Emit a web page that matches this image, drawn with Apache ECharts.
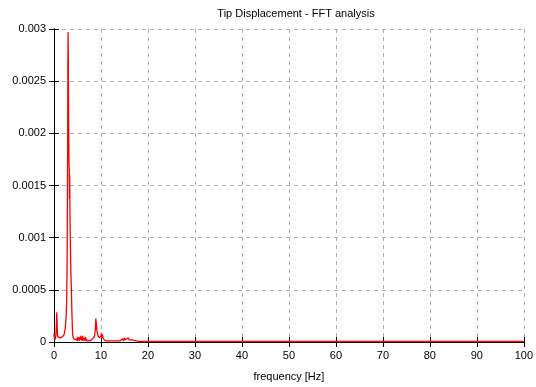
<!DOCTYPE html>
<html>
<head>
<meta charset="utf-8">
<script src="https://cdn.jsdelivr.net/npm/echarts@6/dist/echarts.min.js"></script>
<style>
  html, body { margin: 0; padding: 0; background: #fff; }
  #chart { width: 536px; height: 387px; }
</style>
</head>
<body>
<div id="chart"></div>
<script>
// frequency [Hz] of each sample
const freq = [
  0, 0.05, 0.1, 0.2, 0.3, 0.4, 0.5, 0.55, 0.6, 0.65, 0.7, 0.8, 1.0, 1.2, 1.5, 1.8,
  2.0, 2.2, 2.4, 2.6, 2.7, 2.8, 2.9, 2.95, 3.0, 3.05, 3.1, 3.15, 3.2, 3.25, 3.3,
  3.35, 3.4, 3.5, 3.6, 3.7, 3.8, 3.9, 4.0, 4.2, 4.5, 4.8,
  4.9, 5.0, 5.1, 5.2, 5.3, 5.4, 5.5, 5.6, 5.7, 5.8, 5.9, 6.0, 6.1, 6.2, 6.3, 6.4,
  6.5, 6.6, 6.7, 6.8, 6.9, 7.0, 7.5, 8.0, 8.3, 8.6, 8.8, 8.9, 9.0, 9.1, 9.2, 9.4,
  9.6, 9.8, 10.0, 10.1, 10.2, 10.3, 10.5, 10.8, 11, 11.5, 12, 13, 14,
  14.4, 14.6, 14.8, 15.0, 15.2, 15.4, 15.6, 15.8, 16.0, 16.2, 16.4, 16.6, 17, 18,
  20, 30, 40, 50, 60, 70, 80, 90, 100
];
// tip displacement amplitude
const amp = [
  0.00008, 0.00004, 0.00006, 0.00002, 0.00003, 0.00006, 0.00015, 0.00024, 0.000286,
  0.0002, 0.00012, 0.00005, 0.00005, 0.00004, 0.00004, 0.00005,
  0.00006, 0.00008, 0.00013, 0.00025, 0.0004, 0.0008, 0.0018, 0.0026, 0.00297,
  0.0027, 0.0022, 0.0019, 0.0017, 0.00165, 0.00137,
  0.0016, 0.0012, 0.0009, 0.00065, 0.0005, 0.0003, 0.00015, 0.00006, 0.00003,
  0.00002, 0.00002,
  0.00004, 0.00001, 0.00005, 0.00002, 0.00004, 0.00001, 0.00005, 0.00002, 0.00006,
  0.00002, 0.00005, 0.00001, 0.00006, 0.00002, 0.00004, 0.00001,
  0.00004, 0.00002, 0.00005, 0.00001, 0.00003, 0.00001, 0.00001, 0.00002, 0.00003,
  0.00005, 0.00012, 0.000226, 0.00018, 0.00012, 0.00009, 0.00006,
  0.00004, 0.00004, 0.00006, 0.000085, 0.00004, 0.00007, 0.00003, 0.00002, 0.00001,
  0.00001, 0.00001, 0.00001, 0.00001,
  0.00001, 0.00003, 0.00001, 0.00004, 0.00002, 0.00003, 0.00001, 0.00004, 0.00002,
  0.00003, 0.00001, 0.00002, 0.00001, 0.000005,
  0.000005, 0.000005, 0.000005, 0.000005, 0.000005, 0.000005, 0.000005, 0.000005,
  0.000005
];

const xTicks = { min: 0, max: 100, interval: 10 };
const yTicks = { min: 0, max: 0.003, interval: 0.0005 };

const font = "Liberation Sans, Arial, sans-serif";
const chart = echarts.init(document.getElementById("chart"));

const border = { show: true, lineStyle: { color: "#000", width: 1 } };
const tick = { show: true, inside: true, length: 5, lineStyle: { color: "#000" } };
const grid = { show: true, lineStyle: { color: "#b0b0b0", type: [4, 4], width: 1 } };

chart.setOption({
  animation: false,
  title: {
    text: "Tip Displacement - FFT analysis",
    left: 291,
    textAlign: "center",
    top: 3,
    textStyle: { fontFamily: font, fontSize: 11, fontWeight: "normal", color: "#000" },
  },
  grid: { left: 54, right: 9, top: 29, bottom: 39 },
  xAxis: [
    {
      type: "value",
      ...xTicks,
      name: "frequency [Hz]",
      nameLocation: "middle",
      nameGap: 29,
      nameTextStyle: { fontFamily: font, fontSize: 11, color: "#000" },
      axisLine: border,
      axisTick: tick,
      splitLine: grid,
      axisLabel: { fontFamily: font, fontSize: 11, color: "#000", margin: 8 },
    },
    {
      type: "value",
      ...xTicks,
      position: "top",
      axisLine: border,
      axisTick: tick,
      splitLine: { show: false },
      axisLabel: { show: false },
    },
  ],
  yAxis: [
    {
      type: "value",
      ...yTicks,
      axisLine: border,
      axisTick: tick,
      splitLine: grid,
      axisLabel: {
        fontFamily: font,
        fontSize: 11,
        color: "#000",
        margin: 8,
        formatter: (v) => String(+v.toFixed(4)),
      },
    },
    {
      type: "value",
      ...yTicks,
      position: "right",
      axisLine: border,
      axisTick: tick,
      splitLine: { show: false },
      axisLabel: { show: false },
    },
  ],
  series: [
    {
      type: "line",
      xAxisIndex: 0,
      yAxisIndex: 0,
      showSymbol: false,
      data: freq.map((f, i) => [f, amp[i]]),
      lineStyle: { color: "#ff0000", width: 1.3 },
      itemStyle: { color: "#ff0000" },
    },
  ],
});
</script>
</body>
</html>
